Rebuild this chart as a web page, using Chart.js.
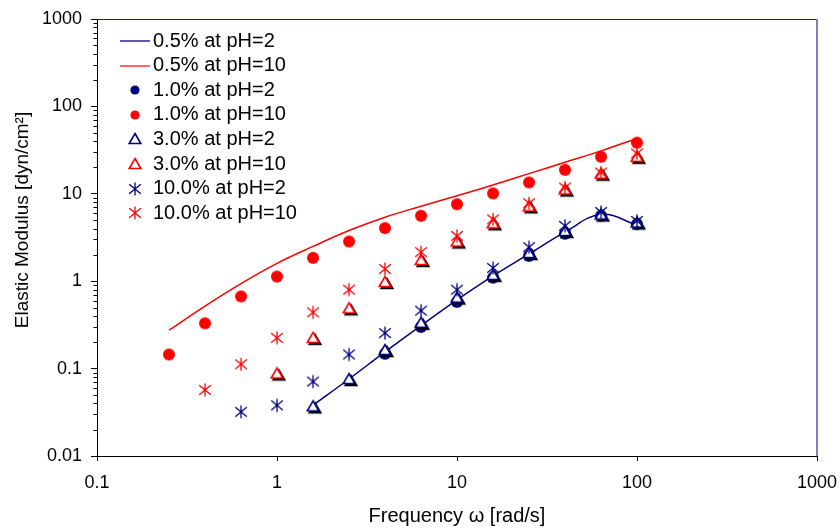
<!DOCTYPE html>
<html>
<head>
<meta charset="utf-8">
<script src="https://cdn.jsdelivr.net/npm/chart.js@4/dist/chart.umd.min.js"></script>
<style>
  html, body { margin: 0; padding: 0; background: #fff; }
  #wrap { width: 840px; height: 529px; }
</style>
</head>
<body>
<div id="wrap"><canvas id="c" width="840" height="529"></canvas></div>
<script>
// Frequency sweep (rad/s), five points per decade
const freq = [0.251, 0.398, 0.631, 1, 1.585, 2.512, 3.981, 6.31, 10, 15.85, 25.12, 39.81, 63.1, 100];

// Elastic modulus (dyn/cm²); every series ends at the last frequency
const mod05_pH2  = [0.038, 0.076, 0.155, 0.31, 0.61, 1.15, 2.05, 3.65, 5.8, 4.4];
const mod05_pH10 = [0.275, 0.52, 0.94, 1.6, 2.5, 3.8, 5.4, 7.2, 9.5, 12.6, 17, 23, 31, 43];
const mod10_pH2  = [0.148, 0.30, 0.58, 1.1, 1.95, 3.5, 5.6, 4.5];
const mod10_pH10 = [0.145, 0.33, 0.67, 1.13, 1.85, 2.85, 4.05, 5.6, 7.6, 10.1, 13.5, 18.8, 26.5, 38.5];
const mod30_pH2  = [0.037, 0.076, 0.163, 0.335, 0.65, 1.18, 2.1, 3.75, 5.8, 4.7];
const mod30_pH10 = [0.088, 0.225, 0.49, 0.98, 1.75, 2.85, 4.6, 7.2, 11.2, 17, 26.5];
const mod100_pH2  = [0.032, 0.038, 0.071, 0.145, 0.255, 0.46, 0.8, 1.42, 2.45, 4.3, 6.2, 4.9];
const mod100_pH10 = [0.057, 0.112, 0.225, 0.44, 0.8, 1.38, 2.15, 3.3, 5.1, 7.8, 11.8, 17.5, 29];

const seriesLabels = ['0.5% at pH=2', '0.5% at pH=10', '1.0% at pH=2', '1.0% at pH=10',
                      '3.0% at pH=2', '3.0% at pH=10', '10.0% at pH=2', '10.0% at pH=10'];

// Axis tick labels (decades)
const xTicks = [0.1, 1, 10, 100, 1000];
const yTicks = [0.01, 0.1, 1, 10, 100, 1000];

const NAVY = '#000080';
const RED = '#ff0000';
const FONT = '"Liberation Sans", Arial, sans-serif';

// pair each series with the tail of the frequency list
function toPoints(values) {
  const start = freq.length - values.length;
  return values.map((v, i) => ({ x: freq[start + i], y: v }));
}

// ---- marker images ----
function makeCanvas(w, h, draw) {
  const c = document.createElement('canvas');
  c.width = w; c.height = h;
  draw(c.getContext('2d'), w / 2, h / 2);
  return c;
}
function dot(color, r) {
  const s = Math.ceil(2 * r + 2);
  return makeCanvas(s, s, (g, cx, cy) => {
    g.fillStyle = color;
    g.beginPath(); g.arc(cx, cy, r, 0, Math.PI * 2); g.fill();
  });
}
function triPath(g, cx, cy) {
  g.beginPath();
  g.moveTo(cx, cy - 5.5);
  g.lineTo(cx + 5.8, cy + 4.5);
  g.lineTo(cx - 5.8, cy + 4.5);
  g.closePath();
}
function tri(color, shadow) {
  return makeCanvas(20, 20, (g, cx, cy) => {
    g.lineJoin = 'miter';
    if (shadow) {
      triPath(g, cx + 2, cy + 2);
      g.fillStyle = '#000'; g.fill();
      g.lineWidth = 1.6; g.strokeStyle = '#000'; g.stroke();
    }
    triPath(g, cx, cy);
    g.fillStyle = '#fff'; g.fill();
    g.lineWidth = 1.6; g.strokeStyle = color; g.stroke();
  });
}
function star(color) {
  return makeCanvas(16, 16, (g, cx, cy) => {
    g.strokeStyle = color; g.lineWidth = 1.3;
    g.beginPath();
    g.moveTo(cx, cy - 6.5); g.lineTo(cx, cy + 6.5);
    g.moveTo(cx - 5.8, cy - 4.8); g.lineTo(cx + 5.8, cy + 4.8);
    g.moveTo(cx - 5.8, cy + 4.8); g.lineTo(cx + 5.8, cy - 4.8);
    g.stroke();
  });
}
function lineSample(color, w) {
  return makeCanvas(30, 4, (g) => {
    g.strokeStyle = color; g.lineWidth = w;
    g.beginPath(); g.moveTo(0, 2); g.lineTo(30, 2); g.stroke();
  });
}

const legendSymbols = [
  lineSample(NAVY, 1.3), lineSample(RED, 1.2),
  dot(NAVY, 4.6), dot(RED, 4.6),
  tri(NAVY, false), tri(RED, false),
  star(NAVY), star(RED)
];

function lineSet(label, values, color) {
  return { label, data: toPoints(values), showLine: true, borderColor: color, borderWidth: 1.5,
           tension: 0.4, fill: false, pointRadius: 0, pointHoverRadius: 0 };
}
function markerSet(label, values, img) {
  return { label, data: toPoints(values), showLine: false, pointStyle: img,
           pointRadius: 6, pointHoverRadius: 6, borderWidth: 0 };
}

const datasets = [
  lineSet(seriesLabels[0], mod05_pH2, NAVY),
  lineSet(seriesLabels[1], mod05_pH10, RED),
  markerSet(seriesLabels[2], mod10_pH2, dot(NAVY, 6)),
  markerSet(seriesLabels[3], mod10_pH10, dot(RED, 6)),
  markerSet(seriesLabels[4], mod30_pH2, tri(NAVY, true)),
  markerSet(seriesLabels[5], mod30_pH10, tri(RED, true)),
  markerSet(seriesLabels[6], mod100_pH2, star(NAVY)),
  markerSet(seriesLabels[7], mod100_pH10, star(RED))
];
// later series are painted on top of earlier ones
datasets.forEach((d, i) => { d.order = datasets.length - i; });

const yTitle = 'Elastic Modulus [dyn/cm²]';

// minor ticks, plot frame, y title and legend
const decorations = {
  id: 'decorations',
  afterDraw(chart) {
    const { ctx, chartArea: a, scales: { y } } = chart;
    ctx.save();
    ctx.strokeStyle = '#000';
    ctx.lineWidth = 1;
    y.ticks.forEach(t => {
      if (t.major) return;
      const py = Math.round(y.getPixelForValue(t.value)) + 0.5;
      ctx.beginPath(); ctx.moveTo(a.left - 3.5, py); ctx.lineTo(a.left, py); ctx.stroke();
    });
    // top and right edges of the plot area
    ctx.strokeStyle = '#1a1a88';
    ctx.lineWidth = 1.2;
    ctx.beginPath(); ctx.moveTo(a.left, a.top + 0.5); ctx.lineTo(a.right, a.top + 0.5); ctx.stroke();
    ctx.strokeStyle = '#8080c4';
    ctx.lineWidth = 2;
    ctx.beginPath(); ctx.moveTo(a.right, a.top); ctx.lineTo(a.right, a.bottom); ctx.stroke();

    // y axis title
    ctx.fillStyle = '#000';
    ctx.font = '19px ' + FONT;
    ctx.textAlign = 'center';
    ctx.textBaseline = 'middle';
    ctx.save();
    ctx.translate(23, 220);
    ctx.rotate(-Math.PI / 2);
    ctx.fillText(yTitle, 0, 0);
    ctx.restore();

    // legend
    ctx.font = '20px ' + FONT;
    ctx.textAlign = 'left';
    chart.data.datasets.forEach((d, i) => {
      const cy = 41 + i * 24.6;
      const img = legendSymbols[i];
      ctx.drawImage(img, Math.round(135 - img.width / 2), Math.round(cy - img.height / 2));
      ctx.fillText(d.label, 153, cy);
    });
    ctx.restore();
  }
};

new Chart(document.getElementById('c'), {
  type: 'scatter',
  data: { datasets },
  options: {
    responsive: false,
    animation: false,
    devicePixelRatio: 1,
    layout: { padding: { top: 19, right: 23, left: 0, bottom: 0 } },
    plugins: { legend: { display: false }, tooltip: { enabled: false } },
    scales: {
      x: {
        type: 'logarithmic',
        position: 'bottom',
        min: 0.1, max: 1000,
        afterBuildTicks: s => { s.ticks = xTicks.map(v => ({ value: v, major: true })); },
        afterFit: s => { s.height = 73; s.paddingLeft = 0; s.paddingRight = 0; },
        ticks: {
          autoSkip: false, maxRotation: 0, minRotation: 0, padding: 11,
          color: '#000', font: { family: FONT, size: 18 },
          callback: v => String(v)
        },
        grid: { display: true, drawOnChartArea: false, tickLength: 5, tickColor: '#000', tickWidth: 1 },
        border: { display: true, color: '#000', width: 1 },
        title: { display: true, text: 'Frequency ω [rad/s]', color: '#000',
                 font: { family: FONT, size: 20 }, padding: { top: 0, bottom: 1 } }
      },
      y: {
        type: 'logarithmic',
        position: 'left',
        min: 0.01, max: 1000,
        afterBuildTicks: s => {
          const t = [];
          yTicks.forEach((d, k) => {
            t.push({ value: d, major: true });
            if (k < yTicks.length - 1) {
              for (let m = 2; m <= 9; m++) t.push({ value: +(d * m).toPrecision(6), major: false });
            }
          });
          s.ticks = t;
        },
        afterFit: s => { s.width = 97; s.paddingTop = 0; s.paddingBottom = 0; },
        ticks: {
          autoSkip: false, padding: 9,
          color: '#000', font: { family: FONT, size: 18 },
          callback: (v, i, ticks) => (ticks[i].major ? String(v) : '')
        },
        grid: {
          display: true, drawOnChartArea: false, tickLength: 6, tickWidth: 1,
          tickColor: c => (c.tick && c.tick.major ? '#000' : 'rgba(0,0,0,0)')
        },
        border: { display: true, color: '#000', width: 1 },
        title: { display: false }
      }
    }
  },
  plugins: [decorations]
});
</script>
</body>
</html>
